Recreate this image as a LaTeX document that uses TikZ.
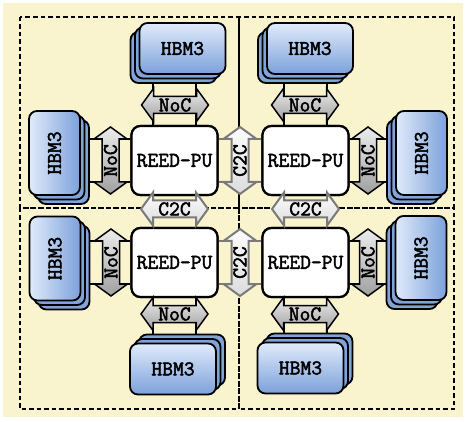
\documentclass[tikz,border=0pt]{standalone}
\usepackage{graphicx}
\usepackage{fontspec}
\newfontfamily\lblff{Latin Modern Mono}[FakeBold=2.2]
\usetikzlibrary{calc}
\definecolor{bgyellow}{RGB}{249,243,206}
\definecolor{hbmlight}{RGB}{224,235,251}
\definecolor{hbmdark}{RGB}{124,161,218}
\definecolor{hbmback}{RGB}{128,163,218}
\definecolor{noclight}{RGB}{236,236,236}
\definecolor{nocdark}{RGB}{160,160,160}
\definecolor{c2clight}{RGB}{252,252,252}
\definecolor{c2cdark}{RGB}{220,220,220}
\definecolor{c2cline}{RGB}{122,122,122}
\newcommand\lblfont{\fontsize{21}{21}\selectfont\lblff\bfseries}
\tikzset{
  pu/.style={draw, line width=2.2pt, rounded corners=9pt, fill=white,
    minimum width=86pt, minimum height=69pt, inner sep=0pt, font=\lblfont},
  hbmh/.style={draw, line width=1.8pt, rounded corners=8pt, top color=hbmlight,
    bottom color=hbmdark, minimum width=86pt, minimum height=51pt, inner sep=0pt, font=\lblfont},
  hbmv/.style={draw, line width=1.8pt, rounded corners=8pt, left color=hbmlight,
    right color=hbmdark, minimum width=51pt, minimum height=84pt, inner sep=0pt, font=\lblfont},
  hbmbackh/.style={draw, line width=1.8pt, rounded corners=8pt, fill=hbmback,
    minimum width=86pt, minimum height=51pt, inner sep=0pt},
  hbmbackv/.style={draw, line width=1.8pt, rounded corners=8pt, fill=hbmback,
    minimum width=51pt, minimum height=84pt, inner sep=0pt},
  nocarrow/.style={draw=black, line width=1.5pt, line join=miter, top color=noclight, bottom color=nocdark},
  c2carrow/.style={draw=c2cline, line width=2pt, line join=miter, top color=c2clight, bottom color=c2cdark},
  noclbl/.style={inner sep=0pt, font=\lblfont},
  nocbus/.style={draw=black, line width=1.5pt},
  c2cbus/.style={draw=c2cline, line width=2pt},
  quad/.style={draw=black, line width=1.3pt, dash pattern=on 4.5pt off 3pt},
}
% horizontal double arrow outline: cx, cy, style
\newcommand\harrow[3]{%
  \path[#3] (#1-33.5,#2) -- (#1-21.5,#2-16.5) -- (#1-21.5,#2-8.5) -- (#1+21.5,#2-8.5)
    -- (#1+21.5,#2-16.5) -- (#1+33.5,#2) -- (#1+21.5,#2+16.5) -- (#1+21.5,#2+8.5)
    -- (#1-21.5,#2+8.5) -- (#1-21.5,#2+16.5) -- cycle;}
% vertical double arrow outline: cx, cy, style
\newcommand\varrow[3]{%
  \path[#3] (#1,#2-33.5) -- (#1+16.5,#2-21.5) -- (#1+8.5,#2-21.5) -- (#1+8.5,#2+21.5)
    -- (#1+16.5,#2+21.5) -- (#1,#2+33.5) -- (#1-16.5,#2+21.5) -- (#1-8.5,#2+21.5)
    -- (#1-8.5,#2-21.5) -- (#1-16.5,#2-21.5) -- cycle;}
% HBM back layers: name, cx, cy, dx, dy, orientation (h/v)
\newcommand\hbmlayers[6]{%
  \node[hbmback#6] (#1-b2) at ({#2+2*(#4)},{#3+2*(#5)}) {};
  \node[hbmback#6] (#1-b1) at ({#2+(#4)},{#3+(#5)}) {};}
\begin{document}
\begin{tikzpicture}[x=1pt,y=-1pt]
\useasboundingbox (0,0) rectangle (466,422);
\fill[bgyellow] (3,3) rectangle (463,417);
% quadrants
\draw[quad] (20,17) rectangle (239,208);
\draw[quad] (239,17) rectangle (454,208);
\draw[quad] (20,208) rectangle (239,409);
\draw[quad] (239,208) rectangle (454,409);

% processing units (positions)
\node[pu] (p1) at (174.5,160.5) {REED-PU};
\node[pu] (p2) at (305.5,160.5) {REED-PU};
\node[pu] (p3) at (174.5,262.5) {REED-PU};
\node[pu] (p4) at (305.5,262.5) {REED-PU};

% HBM anchor coordinates (front layer centres)
\coordinate (c1) at (182.5,48.5);
\coordinate (c2) at (54.5,153);
\coordinate (c3) at (310,48.5);
\coordinate (c4) at (421.5,153);
\coordinate (c5) at (55,258.5);
\coordinate (c6) at (173,369);
\coordinate (c7) at (421,258);
\coordinate (c8) at (300.5,368);

% buses (behind everything)
\draw[nocbus] ([xshift=-21.5pt]p1.north) -- ([xshift=-21.5pt]p1.north |- c1);
\draw[nocbus] ([xshift=21.5pt]p1.north) -- ([xshift=21.5pt]p1.north |- c1);
\draw[nocbus] ([xshift=-21.5pt]p2.north) -- ([xshift=-21.5pt]p2.north |- c3);
\draw[nocbus] ([xshift=21.5pt]p2.north) -- ([xshift=21.5pt]p2.north |- c3);
\draw[nocbus] ([yshift=21.5pt]p1.west) -- ([yshift=21.5pt]p1.west -| c2);
\draw[nocbus] ([yshift=-21.5pt]p1.west) -- ([yshift=-21.5pt]p1.west -| c2);
\draw[nocbus] ([yshift=21.5pt]p2.east) -- ([yshift=21.5pt]p2.east -| c4);
\draw[nocbus] ([yshift=-21.5pt]p2.east) -- ([yshift=-21.5pt]p2.east -| c4);
\draw[nocbus] ([yshift=21.5pt]p3.west) -- ([yshift=21.5pt]p3.west -| c5);
\draw[nocbus] ([yshift=-21.5pt]p3.west) -- ([yshift=-21.5pt]p3.west -| c5);
\draw[nocbus] ([yshift=21.5pt]p4.east) -- ([yshift=21.5pt]p4.east -| c7);
\draw[nocbus] ([yshift=-21.5pt]p4.east) -- ([yshift=-21.5pt]p4.east -| c7);
\draw[nocbus] ([xshift=-21.5pt]p3.south) -- ([xshift=-21.5pt]p3.south |- c6);
\draw[nocbus] ([xshift=21.5pt]p3.south) -- ([xshift=21.5pt]p3.south |- c6);
\draw[nocbus] ([xshift=-21.5pt]p4.south) -- ([xshift=-21.5pt]p4.south |- c8);
\draw[nocbus] ([xshift=21.5pt]p4.south) -- ([xshift=21.5pt]p4.south |- c8);
\draw[c2cbus] ([yshift=21.5pt]p1.east) -- ([yshift=21.5pt]p2.west);
\draw[c2cbus] ([yshift=-21.5pt]p1.east) -- ([yshift=-21.5pt]p2.west);
\draw[c2cbus] ([yshift=21.5pt]p3.east) -- ([yshift=21.5pt]p4.west);
\draw[c2cbus] ([yshift=-21.5pt]p3.east) -- ([yshift=-21.5pt]p4.west);
\draw[c2cbus] ([xshift=-21.5pt]p1.south) -- ([xshift=-21.5pt]p3.north);
\draw[c2cbus] ([xshift=21.5pt]p1.south) -- ([xshift=21.5pt]p3.north);
\draw[c2cbus] ([xshift=-21.5pt]p2.south) -- ([xshift=-21.5pt]p4.north);
\draw[c2cbus] ([xshift=21.5pt]p2.south) -- ([xshift=21.5pt]p4.north);

% redraw PUs on top of buses
\node[pu] at (p1) {REED-PU};
\node[pu] at (p2) {REED-PU};
\node[pu] at (p3) {REED-PU};
\node[pu] at (p4) {REED-PU};

% HBM stacks
\hbmlayers{h1}{182.5}{48.5}{-4.5}{4.5}{h}
\node[hbmh] (h1) at (c1) {HBM3};
\hbmlayers{h3}{310}{48.5}{-4.5}{4.5}{h}
\node[hbmh] (h3) at (c3) {HBM3};
\hbmlayers{h2}{54.5}{153}{4.5}{4.5}{v}
\node[hbmv] (h2) at (c2) {\rotatebox{90}{HBM3}};
\hbmlayers{h4}{421.5}{153}{-4.5}{4.5}{v}
\node[hbmv] (h4) at (c4) {\rotatebox{90}{HBM3}};
\hbmlayers{h5}{55}{258.5}{4.5}{4.5}{v}
\node[hbmv] (h5) at (c5) {\rotatebox{90}{HBM3}};
\hbmlayers{h7}{421}{258}{-4.5}{4.5}{v}
\node[hbmv] (h7) at (c7) {\rotatebox{90}{HBM3}};
\hbmlayers{h6}{173}{369}{4.5}{-4.5}{h}
\node[hbmh] (h6) at (c6) {HBM3};
\hbmlayers{h8}{300.5}{368}{4.5}{-4.5}{h}
\node[hbmh] (h8) at (c8) {HBM3};

% NoC arrows
\harrow{175}{105}{nocarrow}
\node[noclbl] (n1) at (175,105) {NoC};
\harrow{305}{105}{nocarrow}
\node[noclbl] (n2) at (305,105) {NoC};
\varrow{110.5}{160.5}{nocarrow}
\node[noclbl, rotate=90] (n3) at (110.5,160.5) {NoC};
\varrow{368}{160.5}{nocarrow}
\node[noclbl, rotate=90] (n4) at (368,160.5) {NoC};
\varrow{111}{262.5}{nocarrow}
\node[noclbl, rotate=90] (n5) at (111,262.5) {NoC};
\varrow{368}{262.5}{nocarrow}
\node[noclbl, rotate=90] (n6) at (368,262.5) {NoC};
\harrow{174.5}{314}{nocarrow}
\node[noclbl] (n7) at (174.5,314) {NoC};
\harrow{305}{314}{nocarrow}
\node[noclbl] (n8) at (305,314) {NoC};

% C2C arrows
\varrow{240}{160.5}{c2carrow}
\node[noclbl, rotate=90] (k1) at (240,160.5) {C2C};
\varrow{240}{262.5}{c2carrow}
\node[noclbl, rotate=90] (k2) at (240,262.5) {C2C};
\harrow{174.5}{209}{c2carrow}
\node[noclbl] (k3) at (174.5,209) {C2C};
\harrow{305.5}{209}{c2carrow}
\node[noclbl] (k4) at (305.5,209) {C2C};
\end{tikzpicture}
\end{document}
